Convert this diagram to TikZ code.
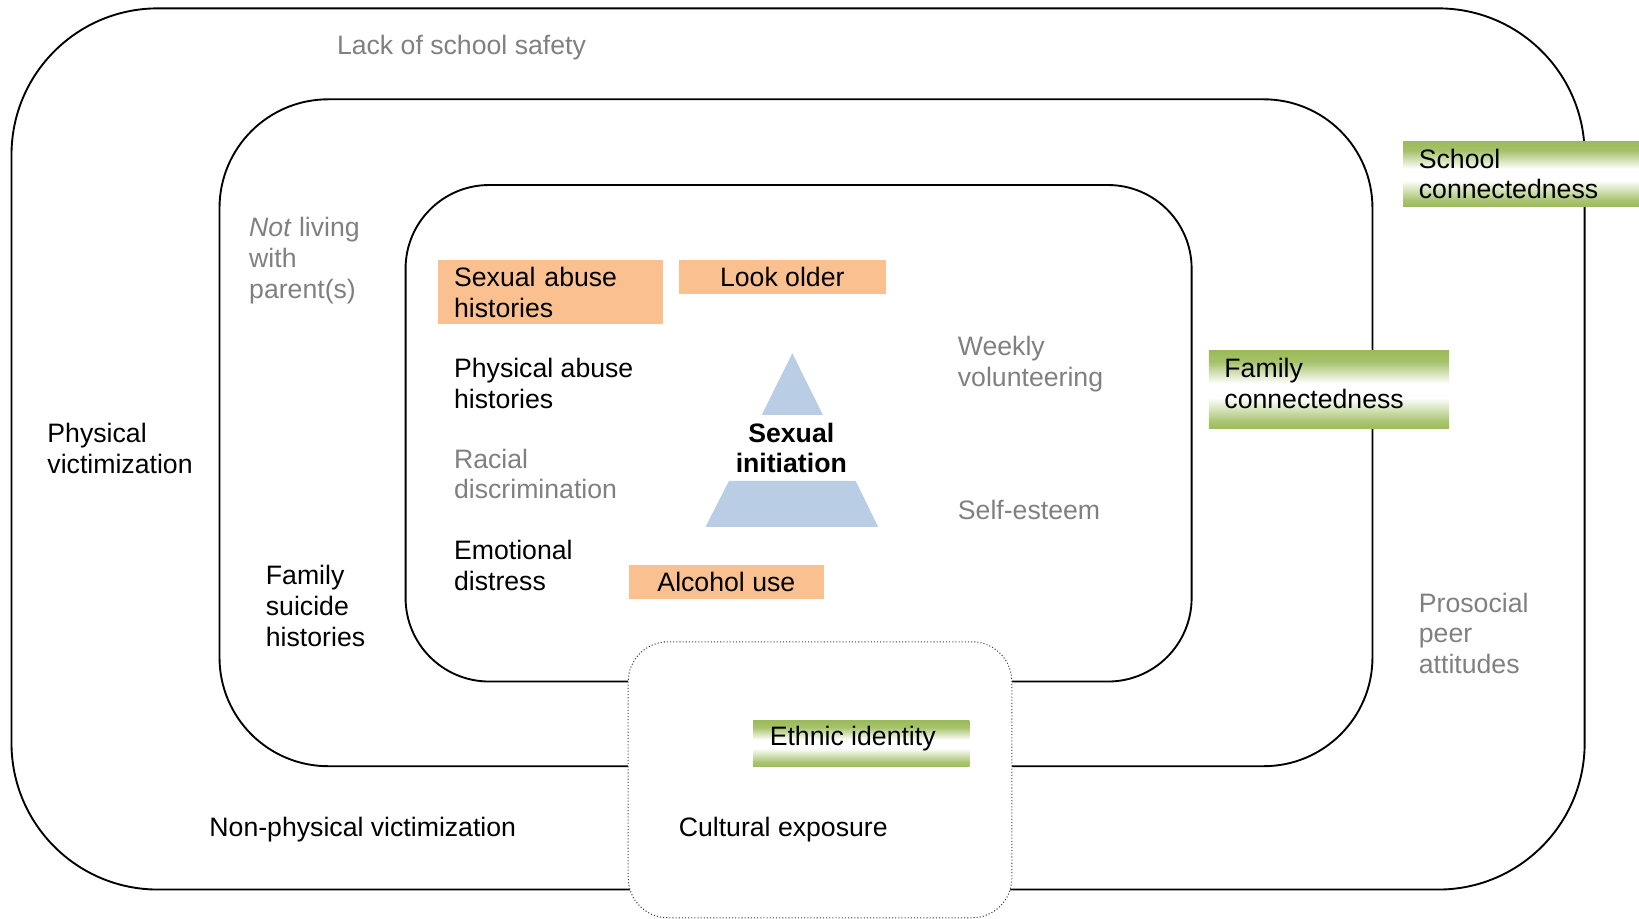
\documentclass[tikz,border=0pt]{standalone}
\usepackage{fontspec}
\setmainfont{Liberation Sans}

\definecolor{peach}{HTML}{FAC090}
\definecolor{leaf}{HTML}{9BBB59}
\definecolor{sky}{HTML}{B9CDE5}
\definecolor{muted}{HTML}{808080}

% green band: solid at the edges, white just below the middle
\pgfdeclareverticalshading{greenband}{100bp}{color(0bp)=(leaf); color(25bp)=(leaf); color(30bp)=(leaf!85); color(45bp)=(white); color(54bp)=(white); color(68bp)=(leaf!90); color(75bp)=(leaf); color(100bp)=(leaf)}

\newcommand{\lblsize}{\fontsize{12.75}{14.75}\selectfont}

\begin{document}
\begin{tikzpicture}[x=0.5pt, y=-0.5pt,
    ring/.style={draw, line width=0.9pt, rounded corners=#1},
    lbl/.style={inner sep=0pt, anchor=west, align=left, font=\lblsize},
    risk/.style={lbl, anchor=north west, fill=peach},
    asset/.style={anchor=north west, shade, shading=greenband, inner sep=0pt}]
    \useasboundingbox (0,0) rectangle (1568,879);

    % nested settings
    \draw[ring=70pt] (11,8) rectangle (1516,851);
    \draw[ring=52pt] (210,95) rectangle (1313,733);
    \draw[ring=40pt] (388,177) rectangle (1140,652);

    % culture box sits on top of the rings
    \draw[fill=white, draw=black!75, densely dotted, line width=0.5pt, rounded corners=19pt] (601,614) rectangle (968,878);

    % outer ring
    \node[lbl, muted] (safety) at (322,46) {Lack of school safety};
    \node[lbl] (physvict) at (45,429) {Physical\\victimization};
    \node[lbl] (nonphys) at (200,794) {Non-physical victimization};
    \node[lbl, muted] (prosocial) at (1357,606) {Prosocial\\peer\\attitudes};
    \node[asset, minimum width=113pt, minimum height=31pt] (school) at (1342,135) {};
    \node[lbl] (schooltxt) at (1357,166.5) {School\\connectedness};

    % middle ring
    \node[lbl, muted] (parents) at (238,249) {\textit{Not} living\\with\\parent(s)};
    \node[lbl] (suicide) at (254,580) {Family\\suicide\\histories};
    \node[asset, minimum width=115pt, minimum height=37.5pt] (family) at (1156,335) {};
    \node[lbl] (familytxt) at (1171,367) {Family\\connectedness};

    % inner ring
    \node[risk, text width=92.5pt, inner xsep=7.5pt, minimum height=31pt] (sexabuse) at (419,248) {Sexual abuse\\histories};
    \node[risk, align=center, minimum width=99pt, minimum height=16.5pt] (older) at (649,248) {Look older};
    \node[lbl] (physabuse) at (434,366.5) {Physical abuse\\histories};
    \node[lbl, muted] (racial) at (434,453.5) {Racial\\discrimination};
    \node[lbl] (distress) at (434,541) {Emotional\\distress};
    \node[risk, align=center, minimum width=93.5pt, minimum height=16.5pt] (alcohol) at (601,540) {Alcohol use};
    \node[lbl, muted] (volunteer) at (916,348.5) {Weekly\\volunteering};
    \node[lbl, muted] (esteem) at (916,488) {Self-esteem};

    % pyramid in the centre
    \fill[sky] (758,338) -- (728.7,397) -- (787.3,397) -- cycle;
    \fill[sky] (697.4,460) -- (818.6,460) -- (840,504) -- (675,504) -- cycle;
    \node[lbl, anchor=center, align=center, font=\lblsize\bfseries] (sexinit) at (757,428.5) {Sexual\\initiation};

    % culture box
    \node[asset, minimum width=103.5pt, minimum height=22pt] (ethnic) at (720,689) {};
    \node[lbl] (ethnictxt) at (736,707) {Ethnic identity};
    \node[lbl] (culture) at (649,794) {Cultural exposure};
\end{tikzpicture}
\end{document}
